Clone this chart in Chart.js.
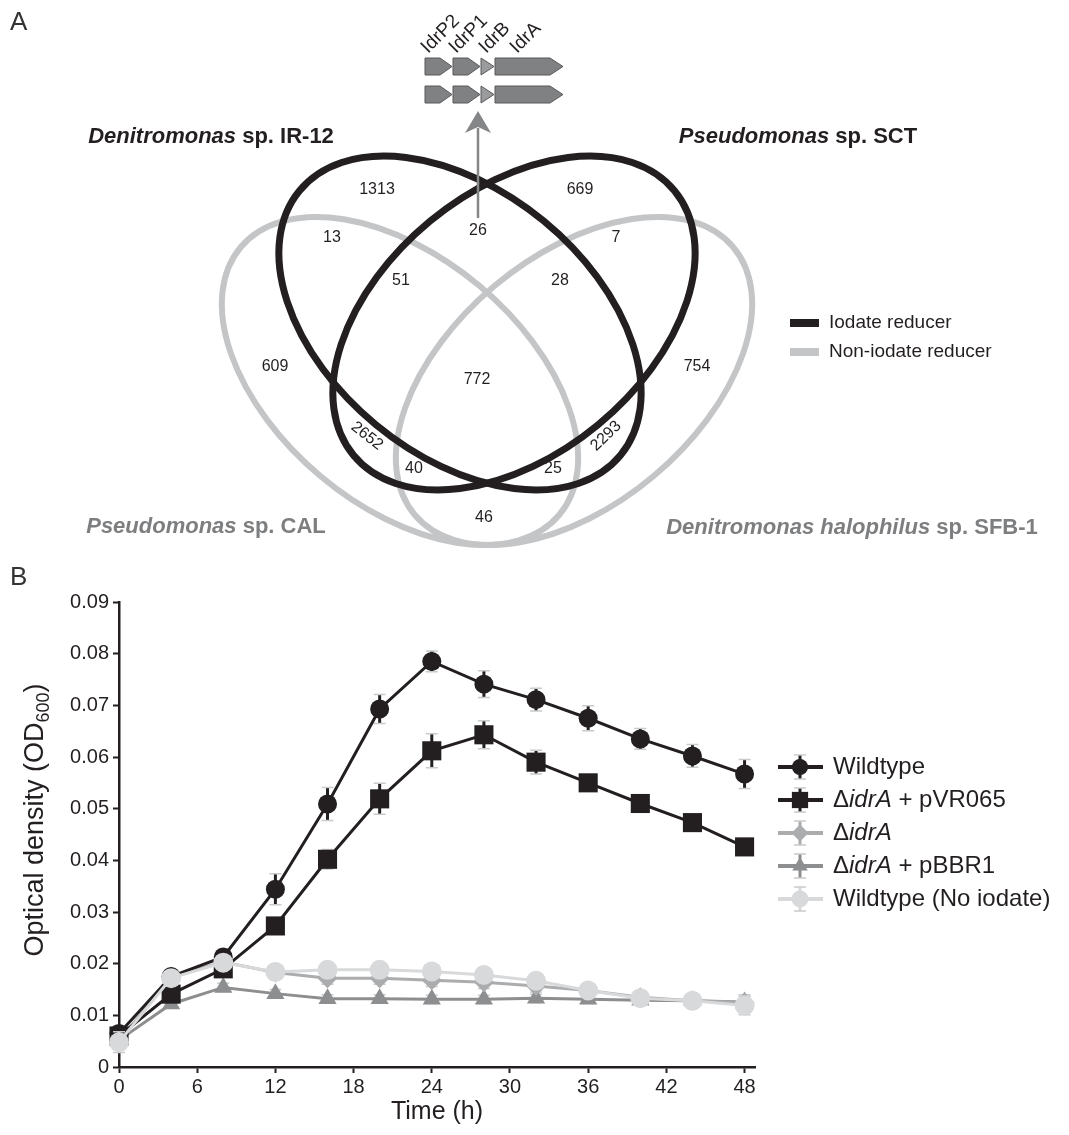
<!DOCTYPE html>
<html>
<head>
<meta charset="utf-8">
<script src="https://cdn.jsdelivr.net/npm/chart.js@4.4.1/dist/chart.umd.min.js"></script>
<style>
  body { margin: 0; background: #fff; }
  canvas { display: block; }
</style>
</head>
<body>
<canvas id="venn" width="1069" height="565"></canvas>
<canvas id="growth" width="1069" height="570"></canvas>
<script>
// ---------- Panel A data ----------
const vennCounts = [1313, 669, 26, 13, 7, 51, 28, 609, 772, 754, 2652, 2293, 40, 25, 46];
const geneNames = ['IdrP2', 'IdrP1', 'IdrB', 'IdrA'];
const legendA = ['Iodate reducer', 'Non-iodate reducer'];

// ---------- Panel B data ----------
const times = [0, 4, 8, 12, 16, 20, 24, 28, 32, 36, 40, 44, 48];
const xTicks = [0, 6, 12, 18, 24, 30, 36, 42, 48];

const wildtype    = [0.0065, 0.0175, 0.0213, 0.0344, 0.0509, 0.0693, 0.0785, 0.0741, 0.0711, 0.0675, 0.0635, 0.0602, 0.0567];
const wildtypeErr = [0.0015, 0.0010, 0.0015, 0.0030, 0.0032, 0.0028, 0.0020, 0.0026, 0.0022, 0.0024, 0.0020, 0.0022, 0.0028];

const pVR065    = [0.0060, 0.0141, 0.0190, 0.0273, 0.0402, 0.0519, 0.0612, 0.0643, 0.0590, 0.0550, 0.0510, 0.0473, 0.0426];
const pVR065Err = [0.0010, 0.0010, 0.0010, 0.0010, 0.0019, 0.0030, 0.0033, 0.0027, 0.0023, 0.0010, 0.0010, 0.0010, 0.0010];

const idrA    = [0.0050, 0.0175, 0.0203, 0.0183, 0.0172, 0.0172, 0.0168, 0.0164, 0.0157, 0.0148, 0.0135, 0.0128, 0.0125];
const idrAErr = [0.0015, 0.0010, 0.0010, 0.0012, 0.0012, 0.0012, 0.0012, 0.0012, 0.0012, 0.0012, 0.0012, 0.0012, 0.0015];

const pBBR1    = [0.0052, 0.0122, 0.0154, 0.0142, 0.0132, 0.0132, 0.0131, 0.0131, 0.0133, 0.0131, 0.0129, 0.0128, 0.0126];
const pBBR1Err = [0.0010, 0.0008, 0.0008, 0.0008, 0.0008, 0.0008, 0.0008, 0.0008, 0.0008, 0.0008, 0.0008, 0.0008, 0.0010];

const noIodate    = [0.0048, 0.0172, 0.0202, 0.0184, 0.0188, 0.0188, 0.0185, 0.0178, 0.0167, 0.0148, 0.0133, 0.0128, 0.0119];
const noIodateErr = [0.0020, 0.0010, 0.0010, 0.0012, 0.0012, 0.0012, 0.0010, 0.0012, 0.0012, 0.0010, 0.0010, 0.0010, 0.0018];

const FONT = '"Liberation Sans", Arial, Helvetica, sans-serif';
const BLACK = '#231f20';
const VGREY = '#c4c5c7';

// draw text made of [text, italic] parts
function drawParts(ctx, parts, x, y, size, weight, align) {
  const fontFor = it => (it ? 'italic ' : '') + weight + ' ' + size + 'px ' + FONT;
  let total = 0;
  parts.forEach(p => { ctx.font = fontFor(p[1]); total += ctx.measureText(p[0]).width; });
  let cx = align === 'center' ? x - total / 2 : x;
  ctx.textAlign = 'left';
  ctx.textBaseline = 'middle';
  parts.forEach(p => {
    ctx.font = fontFor(p[1]);
    ctx.fillText(p[0], cx, y);
    cx += ctx.measureText(p[0]).width;
  });
}

// ---------- Panel A layout ----------
const vennLabelPos = [[377,190],[580,190],[478,231],[332,238],[616,238],[401,281],[560,281],
                      [275,367],[477,380],[697,367],[367,436],[606,436],[414,469],[553,469],[484,518]];
const vennLabelRot = [0,0,0,0,0,0,0,0,0,0,38,-44,0,0,0];
const vennEllipses = [
  {cx: 400, cy: 381, a: 208, b: 124, rot: 40,    color: VGREY, w: 6},
  {cx: 574, cy: 381, a: 208, b: 124, rot: -40,   color: VGREY, w: 6},
  {cx: 460, cy: 323, a: 208, b: 132, rot: 39.5,  color: BLACK, w: 7},
  {cx: 514, cy: 323, a: 208, b: 132, rot: -39.5, color: BLACK, w: 7}
];
const speciesLabels = [
  {parts: [['Denitromonas', true], [' sp. IR-12', false]], x: 211, y: 137, color: BLACK},
  {parts: [['Pseudomonas', true], [' sp. SCT', false]], x: 798, y: 137, color: BLACK},
  {parts: [['Pseudomonas', true], [' sp. CAL', false]], x: 206, y: 527, color: '#7d7e80'},
  {parts: [['Denitromonas halophilus', true], [' sp. SFB-1', false]], x: 852, y: 528, color: '#7d7e80'}
];
const geneSpans = [[425, 452, 12], [453, 480, 12], [481, 494, 13], [495, 563, 13]];
const geneRows = [66.5, 94.5];

const vennPlugin = {
  id: 'venn',
  beforeDatasetsDraw(chart) {
    const {ctx, scales: {x, y}} = chart;
    ctx.save();
    vennEllipses.forEach(e => {
      ctx.beginPath();
      ctx.ellipse(x.getPixelForValue(e.cx), y.getPixelForValue(e.cy), e.a, e.b,
                  e.rot * Math.PI / 180, 0, Math.PI * 2);
      ctx.strokeStyle = e.color;
      ctx.lineWidth = e.w;
      ctx.stroke();
    });
    ctx.restore();
  },
  afterDatasetsDraw(chart) {
    const {ctx, scales: {x, y}} = chart;
    const meta = chart.getDatasetMeta(0);
    ctx.save();
    ctx.fillStyle = BLACK;
    ctx.font = '16px ' + FONT;
    ctx.textAlign = 'center';
    ctx.textBaseline = 'middle';
    meta.data.forEach((pt, i) => {
      ctx.save();
      ctx.translate(pt.x, pt.y);
      ctx.rotate(vennLabelRot[i] * Math.PI / 180);
      ctx.fillText(String(vennCounts[i]), 0, 0);
      ctx.restore();
    });

    // species names
    speciesLabels.forEach(s => {
      ctx.fillStyle = s.color;
      drawParts(ctx, s.parts, x.getPixelForValue(s.x), y.getPixelForValue(s.y), 22, 'bold', 'center');
    });

    // legend
    ctx.fillStyle = BLACK;
    ctx.fillRect(790, 319, 29, 8);
    ctx.fillStyle = VGREY;
    ctx.fillRect(790, 348, 29, 8);
    ctx.fillStyle = BLACK;
    ctx.font = '19px ' + FONT;
    ctx.textAlign = 'left';
    ctx.fillText(legendA[0], 829, 323);
    ctx.fillText(legendA[1], 829, 352);

    // gene cluster
    geneRows.forEach(gy => {
      geneSpans.forEach((g, i) => {
        const [x0, x1, head] = g, h = 17;
        ctx.beginPath();
        ctx.moveTo(x0, gy - h / 2);
        ctx.lineTo(x1 - head, gy - h / 2);
        ctx.lineTo(x1, gy);
        ctx.lineTo(x1 - head, gy + h / 2);
        ctx.lineTo(x0, gy + h / 2);
        ctx.closePath();
        ctx.fillStyle = i === 2 ? '#9a9b9d' : '#808183';
        ctx.fill();
        ctx.strokeStyle = '#58595b';
        ctx.lineWidth = 1;
        ctx.stroke();
      });
    });
    ctx.fillStyle = BLACK;
    ctx.font = '19px ' + FONT;
    ctx.textBaseline = 'alphabetic';
    const labX = [428, 456, 486, 517];
    geneNames.forEach((n, i) => {
      ctx.save();
      ctx.translate(labX[i], 54);
      ctx.rotate(-Math.PI / 4);
      ctx.fillText(n, 0, 0);
      ctx.restore();
    });

    // arrow
    ctx.strokeStyle = '#858688';
    ctx.fillStyle = '#858688';
    ctx.lineWidth = 2.5;
    ctx.beginPath();
    ctx.moveTo(478, 218);
    ctx.lineTo(478, 128);
    ctx.stroke();
    ctx.beginPath();
    ctx.moveTo(478, 111);
    ctx.lineTo(491, 133);
    ctx.lineTo(478, 127);
    ctx.lineTo(465, 133);
    ctx.closePath();
    ctx.fill();

    // panel letter
    ctx.fillStyle = '#333';
    ctx.font = '26px ' + FONT;
    ctx.textBaseline = 'middle';
    ctx.fillText('A', 10, 23);
    ctx.restore();
  }
};

new Chart(document.getElementById('venn'), {
  type: 'scatter',
  data: {
    datasets: [{
      data: vennLabelPos.map(p => ({x: p[0], y: p[1]})),
      pointRadius: 0
    }]
  },
  options: {
    responsive: false,
    animation: false,
    events: [],
    layout: {padding: 0},
    plugins: {legend: {display: false}, tooltip: {enabled: false}},
    scales: {
      x: {type: 'linear', min: 0, max: 1069, display: false},
      y: {type: 'linear', min: 0, max: 565, reverse: true, display: false}
    }
  },
  plugins: [vennPlugin]
});

// ---------- Panel B ----------
const seriesLabels = [
  [['Wildtype', false]],
  [['\u0394', false], ['idrA', true], [' + pVR065', false]],
  [['\u0394', false], ['idrA', true]],
  [['\u0394', false], ['idrA', true], [' + pBBR1', false]],
  [['Wildtype (No iodate)', false]]
];

function series(values, errs, color, style, radius, order) {
  return {
    data: times.map((t, i) => ({x: t, y: values[i]})),
    errors: errs,
    borderColor: color,
    backgroundColor: color,
    borderWidth: 3,
    pointStyle: style,
    pointRadius: radius,
    pointBorderWidth: 0,
    pointBackgroundColor: color,
    order: order,
    clip: false
  };
}

const datasetsB = [
  series(wildtype, wildtypeErr, BLACK, 'circle', 9.5, 1),
  series(pVR065, pVR065Err, BLACK, 'rect', 13.5, 2),
  series(idrA, idrAErr, '#abacae', 'rectRot', 10, 3),
  series(pBBR1, pBBR1Err, '#8d8e90', 'triangle', 10.5, 4),
  series(noIodate, noIodateErr, '#d8d9db', 'circle', 10, 0)
];

const errorBarPlugin = {
  id: 'errorBars',
  beforeDatasetDraw(chart, args) {
    const ds = chart.data.datasets[args.index];
    const yScale = chart.scales.y;
    const ctx = chart.ctx;
    ctx.save();
    args.meta.data.forEach((pt, i) => {
      const v = ds.data[i].y, e = ds.errors[i];
      const top = yScale.getPixelForValue(v + e);
      const bot = yScale.getPixelForValue(v - e);
      ctx.strokeStyle = ds.borderColor;
      ctx.lineWidth = 3;
      ctx.beginPath();
      ctx.moveTo(pt.x, top);
      ctx.lineTo(pt.x, bot);
      ctx.stroke();
      ctx.strokeStyle = '#c9cacc';
      ctx.lineWidth = 1.5;
      ctx.beginPath();
      ctx.moveTo(pt.x - 6, top); ctx.lineTo(pt.x + 6, top);
      ctx.moveTo(pt.x - 6, bot); ctx.lineTo(pt.x + 6, bot);
      ctx.stroke();
    });
    ctx.restore();
  }
};

const decorPlugin = {
  id: 'decorB',
  afterDraw(chart) {
    const ctx = chart.ctx;
    ctx.save();
    // y axis title with subscript
    const cy = 255, cx = 36;
    ctx.fillStyle = BLACK;
    ctx.font = '27px ' + FONT;
    const main = 'Optical density (OD';
    const wMain = ctx.measureText(main).width;
    ctx.font = '18px ' + FONT;
    const wSub = ctx.measureText('600').width;
    ctx.font = '27px ' + FONT;
    const wEnd = ctx.measureText(')').width;
    const total = wMain + wSub + wEnd;
    ctx.translate(cx, cy);
    ctx.rotate(-Math.PI / 2);
    ctx.textBaseline = 'middle';
    ctx.textAlign = 'left';
    let px = -total / 2;
    ctx.fillText(main, px, 0); px += wMain;
    ctx.font = '18px ' + FONT;
    ctx.fillText('600', px, 8); px += wSub;
    ctx.font = '27px ' + FONT;
    ctx.fillText(')', px, 0);
    ctx.restore();

    // legend
    ctx.save();
    const rowY = [202, 235, 268, 301, 334];
    datasetsB.forEach((ds, i) => {
      const y = rowY[i];
      ctx.strokeStyle = ds.borderColor;
      ctx.lineWidth = 4;
      ctx.beginPath();
      ctx.moveTo(778, y); ctx.lineTo(823, y);
      ctx.stroke();
      ctx.lineWidth = 3;
      ctx.beginPath();
      ctx.moveTo(800, y - 12); ctx.lineTo(800, y + 12);
      ctx.stroke();
      ctx.strokeStyle = '#c9cacc';
      ctx.lineWidth = 1.5;
      ctx.beginPath();
      ctx.moveTo(794, y - 12); ctx.lineTo(806, y - 12);
      ctx.moveTo(794, y + 12); ctx.lineTo(806, y + 12);
      ctx.stroke();
      ctx.fillStyle = ds.backgroundColor;
      Chart.helpers.drawPoint(ctx, {pointStyle: ds.pointStyle, radius: ds.pointRadius * 0.85, rotation: 0, borderWidth: 0}, 800, y);
      ctx.fillStyle = BLACK;
      drawParts(ctx, seriesLabels[i], 833, y, 24, 'normal', 'left');
    });
    ctx.fillStyle = '#333';
    ctx.font = '26px ' + FONT;
    ctx.textBaseline = 'middle';
    ctx.textAlign = 'left';
    ctx.fillText('B', 10, 13);
    ctx.restore();
  }
};

new Chart(document.getElementById('growth'), {
  type: 'line',
  data: {datasets: datasetsB},
  options: {
    responsive: false,
    animation: false,
    events: [],
    layout: {padding: {top: 37, right: 314, left: 0, bottom: 0}},
    plugins: {legend: {display: false}, tooltip: {enabled: false}},
    scales: {
      x: {
        type: 'linear', min: 0, max: 48.8,
        afterBuildTicks: s => { s.ticks = xTicks.map(v => ({value: v})); },
        afterFit: s => { s.height = 68; },
        grid: {drawOnChartArea: false, tickLength: 6, tickWidth: 2, tickColor: BLACK},
        border: {display: true, color: BLACK, width: 2.5},
        ticks: {color: BLACK, font: {family: FONT, size: 20}, padding: 2, maxRotation: 0},
        title: {display: true, text: 'Time (h)', color: BLACK, font: {family: FONT, size: 25}, padding: {top: 0, bottom: 8}}
      },
      y: {
        type: 'linear', min: 0, max: 0.09,
        afterFit: s => { s.width = 119; },
        grid: {drawOnChartArea: false, tickLength: 6, tickWidth: 2, tickColor: BLACK},
        border: {display: true, color: BLACK, width: 2.5},
        ticks: {
          stepSize: 0.01, color: BLACK, font: {family: FONT, size: 20}, padding: 4,
          callback: v => (Math.abs(v) < 1e-9 ? '0' : v.toFixed(2))
        }
      }
    }
  },
  plugins: [errorBarPlugin, decorPlugin]
});
</script>
</body>
</html>
